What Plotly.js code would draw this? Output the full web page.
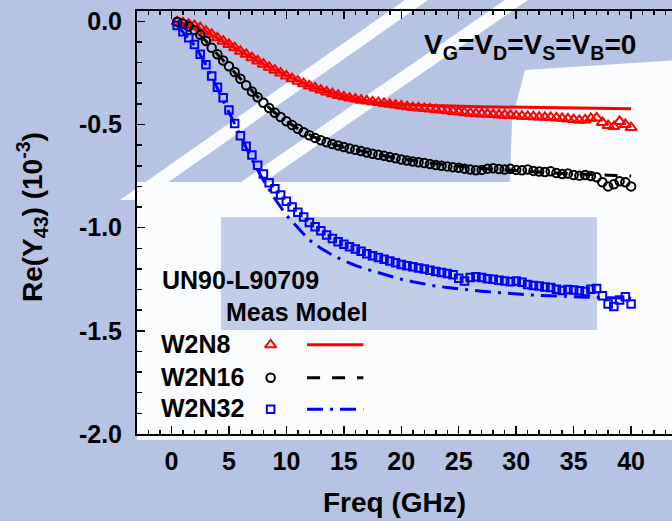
<!DOCTYPE html>
<html>
<head>
<meta charset="utf-8">
<script src="https://cdn.plot.ly/plotly-3.0.1.min.js"></script>
<style>
html,body{margin:0;padding:0;overflow:hidden;background:#b6c3e2;}
#chart{width:680px;height:521px;}
</style>
</head>
<body>
<div id="chart"></div>
<script>
// Frequency grid of the measurements (GHz)
const freqMeas = [0.5,1.0,1.5,2.0,2.5,3.0,3.5,4.0,4.5,5.0,5.5,6.0,6.5,7.0,7.5,8.0,8.5,9.0,9.5,10.0,
  10.5,11.0,11.5,12.0,12.5,13.0,13.5,14.0,14.5,15.0,15.5,16.0,16.5,17.0,17.5,18.0,18.5,19.0,19.5,20.0,
  20.5,21.0,21.5,22.0,22.5,23.0,23.5,24.0,24.5,25.0,25.5,26.0,26.5,27.0,27.5,28.0,28.5,29.0,29.5,30.0,
  30.5,31.0,31.5,32.0,32.5,33.0,33.5,34.0,34.5,35.0,35.5,36.0,36.5,37.0,37.5,38.0,38.5,39.0,39.5,40.0];

// Measured Re(Y43) (1e-3)
const measW2N8 = [-0.003,-0.008,-0.014,-0.021,-0.031,-0.047,-0.063,-0.080,-0.096,-0.112,-0.128,-0.145,-0.160,-0.176,-0.192,-0.208,-0.223,-0.237,-0.251,-0.265,
  -0.278,-0.290,-0.302,-0.313,-0.323,-0.333,-0.342,-0.351,-0.359,-0.366,-0.372,-0.377,-0.382,-0.386,-0.390,-0.394,-0.398,-0.402,-0.406,-0.410,
  -0.414,-0.418,-0.420,-0.423,-0.425,-0.428,-0.430,-0.434,-0.437,-0.440,-0.443,-0.445,-0.448,-0.449,-0.450,-0.452,-0.454,-0.455,-0.456,-0.458,
  -0.460,-0.461,-0.462,-0.464,-0.465,-0.466,-0.468,-0.470,-0.473,-0.476,-0.480,-0.478,-0.470,-0.468,-0.490,-0.505,-0.510,-0.485,-0.500,-0.515];
const measW2N16 = [-0.002,-0.012,-0.025,-0.042,-0.065,-0.095,-0.128,-0.160,-0.190,-0.218,-0.246,-0.278,-0.310,-0.340,-0.368,-0.395,-0.420,-0.443,-0.464,-0.484,
  -0.503,-0.521,-0.538,-0.552,-0.565,-0.576,-0.586,-0.595,-0.602,-0.609,-0.616,-0.623,-0.629,-0.636,-0.642,-0.647,-0.652,-0.658,-0.664,-0.670,
  -0.675,-0.679,-0.683,-0.687,-0.692,-0.696,-0.700,-0.703,-0.707,-0.710,-0.714,-0.718,-0.722,-0.720,-0.714,-0.712,-0.716,-0.718,-0.715,-0.720,
  -0.722,-0.718,-0.725,-0.728,-0.730,-0.727,-0.735,-0.740,-0.738,-0.745,-0.748,-0.745,-0.750,-0.756,-0.780,-0.800,-0.790,-0.775,-0.780,-0.800];
const measW2N32 = [-0.020,-0.050,-0.080,-0.112,-0.160,-0.210,-0.265,-0.320,-0.370,-0.430,-0.495,-0.555,-0.605,-0.648,-0.698,-0.740,-0.782,-0.812,-0.842,-0.872,
  -0.900,-0.925,-0.948,-0.975,-0.995,-1.015,-1.035,-1.052,-1.068,-1.080,-1.092,-1.103,-1.114,-1.126,-1.136,-1.145,-1.153,-1.162,-1.170,-1.178,
  -1.185,-1.190,-1.196,-1.200,-1.206,-1.212,-1.217,-1.222,-1.228,-1.245,-1.258,-1.242,-1.238,-1.242,-1.248,-1.250,-1.255,-1.258,-1.262,-1.258,
  -1.265,-1.275,-1.280,-1.283,-1.288,-1.290,-1.298,-1.305,-1.300,-1.302,-1.306,-1.310,-1.298,-1.295,-1.330,-1.370,-1.382,-1.350,-1.335,-1.370];

// Model curves
const freqModel = [0.5,1,2,3,4,5,6,7,8,9,10,11,12,13,14,15,16,17,18,19,20,21,22,23,24,25,26,27,28,29,30,31,32,33,34,35,36,37,38,39,40];
const modelW2N8 = [-0.003,-0.010,-0.025,-0.050,-0.082,-0.114,-0.146,-0.177,-0.208,-0.236,-0.263,-0.288,-0.310,-0.330,-0.347,-0.362,-0.374,-0.384,-0.392,-0.398,
  -0.403,-0.406,-0.408,-0.410,-0.411,-0.412,-0.413,-0.414,-0.415,-0.415,-0.416,-0.417,-0.418,-0.419,-0.420,-0.421,-0.422,-0.422,-0.423,-0.424,-0.424];
const modelW2N16 = [-0.002,-0.012,-0.042,-0.095,-0.160,-0.220,-0.280,-0.340,-0.395,-0.443,-0.484,-0.520,-0.550,-0.575,-0.595,-0.610,-0.623,-0.635,-0.646,-0.656,
  -0.666,-0.675,-0.683,-0.690,-0.697,-0.703,-0.708,-0.713,-0.717,-0.721,-0.725,-0.728,-0.731,-0.734,-0.737,-0.740,-0.742,-0.744,-0.746,-0.748,-0.750];
const modelW2N32 = [-0.020,-0.050,-0.115,-0.210,-0.325,-0.440,-0.560,-0.670,-0.770,-0.860,-0.940,-1.000,-1.060,-1.100,-1.133,-1.160,-1.183,-1.202,-1.218,-1.233,
  -1.250,-1.262,-1.273,-1.283,-1.290,-1.297,-1.303,-1.308,-1.313,-1.318,-1.322,-1.325,-1.328,-1.331,-1.333,-1.335,-1.337,-1.339,-1.340,-1.341,-1.342];

// Axis ticks
const xTickVals = [0,5,10,15,20,25,30,35,40];
const xTickText = ["0","5","10","15","20","25","30","35","40"];
const yTickVals = [0,-0.5,-1.0,-1.5,-2.0];
const yTickText = ["0.0","-0.5","-1.0","-1.5","-2.0"];

const seriesNames = ["W2N8","W2N16","W2N32"];

const RED = "#ff0000", BLACK = "#000000", BLUE = "#0000ff";
const FONT = "Arial, 'Liberation Sans', sans-serif";
const WM_BLUE = "#b6c3e2", WM_BAND = "#c2cde8", WM_WHITE = "#fbfcfe";

const traces = [
  {x: freqModel, y: modelW2N8, mode: "lines", line: {color: RED, width: 3}, showlegend: false},
  {x: freqModel, y: modelW2N16, mode: "lines", line: {color: BLACK, width: 3, dash: "13px,12px"}, showlegend: false},
  {x: freqModel, y: modelW2N32, mode: "lines", line: {color: BLUE, width: 3, dash: "16px,7px,3px,7px"}, showlegend: false},
  {x: freqMeas, y: measW2N8, mode: "markers", marker: {symbol: "triangle-up-open", size: 10, color: RED, line: {width: 2, color: RED}}, showlegend: false},
  {x: freqMeas, y: measW2N16, mode: "markers", marker: {symbol: "circle-open", size: 8.5, color: BLACK, line: {width: 2, color: BLACK}}, showlegend: false},
  {x: freqMeas, y: measW2N32, mode: "markers", marker: {symbol: "square-open", size: 7.5, color: BLUE, line: {width: 2, color: BLUE}}, showlegend: false}
];

// Hand-drawn legend (marker column, line column)
const legY = [-1.568, -1.727, -1.880];
const legSym = ["triangle-up-open","circle-open","square-open"];
const legCol = [RED, BLACK, BLUE];
const legDash = ["solid","13px,12px","16px,7px,3px,7px"];
const legSize = [10, 8.5, 7.5];
for (let i = 0; i < 3; i++) {
  traces.push({x: [8.63], y: [legY[i]], mode: "markers", showlegend: false,
    marker: {symbol: legSym[i], size: legSize[i], color: legCol[i], line: {width: 2, color: legCol[i]}}});
  traces.push({x: [11.8, 16.7], y: [legY[i], legY[i]], mode: "lines", showlegend: false,
    line: {color: legCol[i], width: 3, dash: legDash[i]}});
}

const W = 680, L = 137, T = 11, B = 87;
const plotW = W - L, plotH = 521 - T - B;
const px = v => (v - L) / plotW;
const py = v => (521 - B - v) / plotH;

// Faint watermark behind the chart (decoration only)
const poly = pts => "M" + pts.map(p => px(p[0]).toFixed(4) + "," + py(p[1]).toFixed(4)).join(" L") + " Z";
const shapes = [
  {type: "path", xref: "paper", yref: "paper", layer: "below", line: {width: 0}, fillcolor: WM_WHITE,
   path: poly([[137,182],[680,182],[680,440],[137,440]])},
  {type: "path", xref: "paper", yref: "paper", layer: "below", line: {width: 0}, fillcolor: WM_WHITE,
   path: poly([[525,70],[680,60],[680,182],[510,182],[512,120]])},
  {type: "path", xref: "paper", yref: "paper", layer: "below", line: {width: 0}, fillcolor: WM_BAND,
   path: poly([[221,217],[597,217],[597,330],[221,330]])},
  {type: "path", xref: "paper", yref: "paper", layer: "below", line: {width: 0}, fillcolor: WM_WHITE,
   path: poly([[120,200],[405,0],[428,0],[143,200]])},
  {type: "path", xref: "paper", yref: "paper", layer: "below", line: {width: 0}, fillcolor: WM_WHITE,
   path: poly([[215,200],[505,0],[528,0],[238,200]])}
];

const annotations = [
  {text: "Re(Y<sub>43</sub>) (10<sup>-3</sup>)", xref: "paper", yref: "paper", x: px(32), y: py(217), textangle: -90,
   showarrow: false, xanchor: "center", yanchor: "middle", font: {family: FONT, size: 28, color: "#000", weight: "bold"}},
  {text: "Freq (GHz)", xref: "paper", yref: "paper", x: px(394), y: py(502), showarrow: false,
   xanchor: "center", yanchor: "middle", font: {family: FONT, size: 28, color: "#000", weight: "bold"}},
  {text: "V<sub>G</sub>=V<sub>D</sub>=V<sub>S</sub>=V<sub>B</sub>=0", xref: "paper", yref: "paper", x: px(530), y: py(46),
   showarrow: false, xanchor: "center", yanchor: "middle", font: {family: FONT, size: 28, color: "#000", weight: "bold"}},
  {text: "UN90-L90709", xref: "paper", yref: "paper", x: px(160), y: py(280), showarrow: false,
   xanchor: "left", yanchor: "middle", font: {family: FONT, size: 25, color: "#000", weight: "bold"}},
  {text: "Meas Model", xref: "paper", yref: "paper", x: px(224), y: py(312), showarrow: false,
   xanchor: "left", yanchor: "middle", font: {family: FONT, size: 25, color: "#000", weight: "bold"}}
];
const legTextY = [344, 377, 408];
for (let i = 0; i < 3; i++) {
  annotations.push({text: seriesNames[i], xref: "paper", yref: "paper", x: px(159), y: py(legTextY[i]), showarrow: false,
    xanchor: "left", yanchor: "middle", font: {family: FONT, size: 25, color: "#000", weight: "bold"}});
}

const layout = {
  width: W, height: 521,
  margin: {l: L, r: 0, t: T, b: B, pad: 0},
  paper_bgcolor: WM_BLUE,
  plot_bgcolor: "rgba(0,0,0,0)",
  showlegend: false,
  font: {family: FONT, color: "#000"},
  xaxis: {
    range: [-3.0, (W - 171.5) / 11.49],
    tickmode: "array", tickvals: xTickVals, ticktext: xTickText,
    ticks: "inside", ticklen: 8, tickwidth: 1.5, tickcolor: "#000",
    minor: {ticks: "inside", dtick: 1, tick0: 0, ticklen: 4, tickwidth: 1.5, tickcolor: "#000", showgrid: false},
    showline: true, linecolor: "#000", linewidth: 2, mirror: "allticks",
    showgrid: false, zeroline: false,
    tickfont: {family: FONT, size: 25, color: "#000", weight: "bold"},
    ticklabelstandoff: 4
  },
  yaxis: {
    range: [-2.0, 0.05],
    tickmode: "array", tickvals: yTickVals, ticktext: yTickText,
    ticks: "inside", ticklen: 8, tickwidth: 1.5, tickcolor: "#000",
    minor: {ticks: "inside", dtick: 0.1, tick0: 0, ticklen: 5, tickwidth: 1.5, tickcolor: "#000", showgrid: false},
    showline: true, linecolor: "#000", linewidth: 2, mirror: "allticks",
    showgrid: false, zeroline: false,
    tickfont: {family: FONT, size: 25, color: "#000", weight: "bold"},
    ticklabelstandoff: 8
  },
  shapes: shapes,
  annotations: annotations
};

Plotly.newPlot("chart", traces, layout, {displayModeBar: false, staticPlot: true});
</script>
</body>
</html>
